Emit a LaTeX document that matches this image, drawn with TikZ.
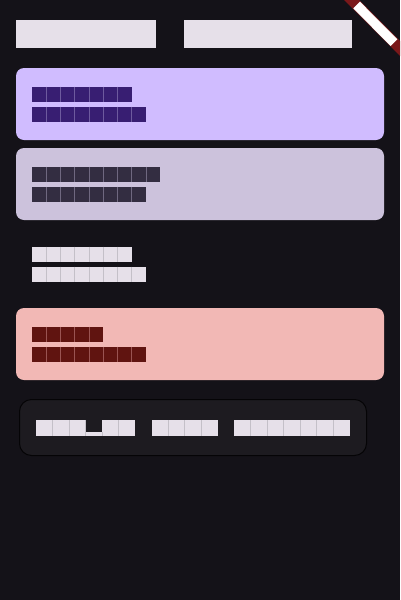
\documentclass[tikz,border=0pt]{standalone}
\usetikzlibrary{calc}
\definecolor{bg}{HTML}{141218}
\definecolor{onsurf}{HTML}{E6E0E9}
\definecolor{onsurfsep}{HTML}{C4C0C8}
\definecolor{prim}{HTML}{D0BCFF}
\definecolor{onprim}{HTML}{381E72}
\definecolor{onprimsep}{HTML}{6E5A9E}
\definecolor{seccont}{HTML}{CCC2DC}
\definecolor{onsec}{HTML}{332D41}
\definecolor{onsecsep}{HTML}{6F6880}
\definecolor{errc}{HTML}{F2B8B5}
\definecolor{onerr}{HTML}{601410}
\definecolor{onerrsep}{HTML}{9A5452}
\definecolor{cardc}{HTML}{1D1B20}
\definecolor{cardline}{HTML}{050406}
\definecolor{bannerred}{HTML}{7A181A}
% tofu row: x, y, count, glyph width, height, fill colour, seam colour
\newcommand\tofurow[7]{%
  \fill[#6] (#1,#2) rectangle ({#1+#3*#4},{#2+#5});
  \ifnum#3>1
  \foreach \i in {1,...,\numexpr#3-1\relax}{%
    \draw[#7,line width=0.7pt] ({#1+\i*#4},#2) -- ({#1+\i*#4},{#2+#5});
  }\fi
}
\tikzset{
  cardbox/.style={rounded corners=8pt},
  outlinecard/.style={rounded corners=12pt, fill=cardc, draw=cardline, line width=1pt},
}
\begin{document}
\begin{tikzpicture}[x=1pt,y=-1pt]
\useasboundingbox (0,0) rectangle (400,600);
\fill[bg] (0,0) rectangle (400,600);
% title
\fill[onsurf] (16,20) rectangle (156,48);
\fill[onsurf] (184,20) rectangle (352,48);
% card 1
\fill[prim,cardbox] (16,68) rectangle (384,140);
\tofurow{32}{86.7}{7}{14.25}{15.3}{onprim}{onprimsep}
\tofurow{32}{106.7}{8}{14.25}{15.3}{onprim}{onprimsep}
% card 2
\fill[seccont,cardbox] (16,148) rectangle (384,220);
\tofurow{32}{166.7}{9}{14.25}{15.3}{onsec}{onsecsep}
\tofurow{32}{186.7}{8}{14.25}{15.3}{onsec}{onsecsep}
% plain text
\tofurow{32}{246.7}{7}{14.25}{15.3}{onsurf}{onsurfsep}
\tofurow{32}{266.7}{8}{14.25}{15.3}{onsurf}{onsurfsep}
% card 3
\fill[errc,cardbox] (16,308) rectangle (384,380);
\tofurow{32}{326.7}{5}{14.25}{15.3}{onerr}{onerrsep}
\tofurow{32}{346.7}{8}{14.25}{15.3}{onerr}{onerrsep}
% outlined card
\path[outlinecard] (19.5,399.5) rectangle (366.5,455.5);
\tofurow{36}{420}{3}{16.5}{16}{onsurf}{onsurfsep}
\fill[onsurf] (85.5,432) rectangle (102,436);
\draw[onsurfsep,line width=0.7pt] (85.5,420) -- (85.5,436);
\tofurow{102}{420}{2}{16.5}{16}{onsurf}{onsurfsep}
\draw[onsurfsep,line width=0.7pt] (102,432) -- (102,436);
\tofurow{151.5}{420}{4}{16.5}{16}{onsurf}{onsurfsep}
\tofurow{234}{420}{7}{16.5}{16}{onsurf}{onsurfsep}
% debug banner
\begin{scope}
\clip (0,0) rectangle (400,600);
\fill[bannerred] (344,0) -- (359,0) -- (400,41) -- (400,56) -- cycle;
\fill[white] (353.3,8.3) -- (360,1.7) -- (397.3,39.3) -- (390.5,46) -- cycle;
\end{scope}
\end{tikzpicture}
\end{document}
